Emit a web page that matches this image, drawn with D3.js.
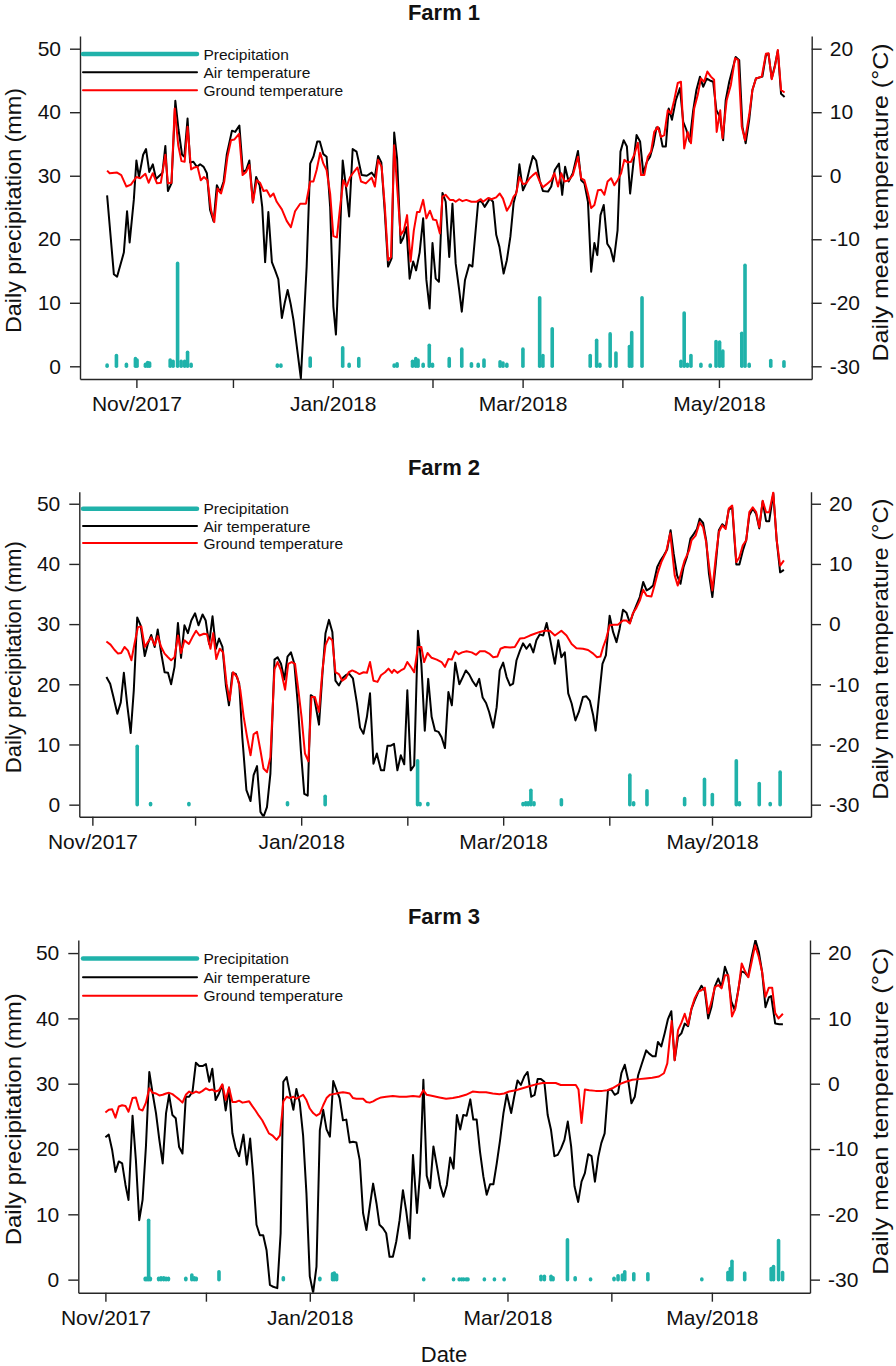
<!DOCTYPE html>
<html>
<head>
<meta charset="utf-8">
<script src="https://cdn.jsdelivr.net/npm/d3@7"></script>
<style>
  body { margin: 0; background: #fff; }
  svg text { font-family: "Liberation Sans", Arial, sans-serif; fill: #111; }
</style>
</head>
<body>
<script>
// values are [day, value], day counted from 1 Nov 2017 (0 = Nov 1)
// temperatures in degrees C, precipitation in mm

const f1Air = [[-9.1,-3.1],[-7,-15.5],[-6,-15.9],[-3.9,-12.1],[-2.9,-5.6],[-2.1,-10.5],[-0.8,-3.8],[0,2.4],[0.8,-0.2],[2.1,3.3],[3,4.2],[4,0.6],[5.1,1.8],[6.1,-0.5],[7.4,0.1],[8.1,0.5],[9,4.7],[9.8,-2.4],[10.9,-1.2],[12.1,11.8],[13.1,7.2],[14.2,3.3],[14.9,3.0],[15.9,9.0],[16.7,2.1],[17.7,2.2],[18.8,1.4],[19.8,1.8],[20.9,1.4],[21.9,0.4],[22.9,-5.4],[24,-7.2],[25,-1.5],[26,-2.6],[27.1,-0.9],[28.1,3.4],[29.7,7.1],[30.7,6.9],[32,7.9],[33.1,0.6],[34.1,0.9],[35.1,2.4],[36.2,-4.2],[37.2,-0.2],[38.3,-1.5],[39.1,-4.9],[40,-13.6],[41,-5.7],[42.1,-13.6],[43.1,-14.9],[44.1,-16.3],[45.2,-22.4],[46.1,-20],[47,-18],[47.9,-20.1],[48.8,-22.7],[51.1,-31.9],[52.9,-14.3],[54,1.9],[55,3],[56.2,5.4],[57,5.4],[58.1,3.4],[59.1,3],[60.2,-4.9],[61.2,-20.6],[62,-25],[63.1,-11.7],[64.1,2.4],[65.1,-1.7],[66.1,-6.4],[67.2,4.2],[68.4,3.8],[70,0.1],[71.6,0],[73.1,0.5],[74.1,-0.2],[75.1,3.1],[76.1,2.1],[77.2,-5.9],[78.2,-14.3],[79.3,-13],[80.1,6.8],[81,2.7],[82.1,-10.6],[82.9,-9.8],[83.9,-8.1],[84.9,-16.2],[86,-13.5],[86.9,-14.9],[88,-12.1],[89.1,-6.7],[90.1,-16.4],[91.1,-20.9],[92,-10.6],[93,-16.2],[94,-16.7],[95.1,-2.7],[96.1,-4.1],[97.2,-12.8],[98.2,-4.4],[99.2,-13.8],[100.3,-18],[101.1,-21.4],[102.1,-16.4],[103.4,-14],[104.4,-14.3],[106.2,-4.1],[107.2,-4.0],[108.2,-4.9],[109.8,-3.6],[110.8,-4.1],[111.8,-9.3],[112.8,-11.2],[114.1,-15.4],[115.1,-13.3],[116.2,-9.6],[117.2,-4.3],[118.2,-2.3],[119,1.8],[120.1,-2.3],[121.1,-1.2],[122.2,1.2],[123.2,3.1],[124.2,2.4],[125.3,-0.7],[126.3,-2.4],[127.9,-2.5],[128.9,-1.7],[130,0.9],[131.3,1.9],[132.3,-3],[133.2,1.4],[134.3,-0.9],[135.6,0.4],[137.2,3.9],[138.2,-0.7],[139.2,-1.2],[140.3,-4.1],[141.3,-15.1],[142.3,-10.6],[143.2,-12.5],[144.2,-6.2],[145.2,-4.6],[146.3,-10.7],[147.3,-11.5],[148.3,-13.5],[149.5,-8.6],[150.4,3.8],[151.4,5.6],[152.4,4.6],[153.4,-2.8],[154.4,1.9],[155.4,6.4],[156.5,5.4],[157.5,0.4],[158.6,2.2],[159.6,3],[160.6,4.8],[161.6,7.6],[162.4,7.5],[163.5,4.6],[164.5,4.6],[165.4,10.6],[166.4,8.8],[167.6,11.9],[168.9,13.8],[169.9,8.5],[170.9,7.2],[171.9,5.4],[173,10.3],[174,13.5],[175.1,15.6],[176.1,14],[177.2,15.3],[178.2,15],[179.2,14.8],[180.2,10.3],[181.3,9.3],[182.3,5.6],[183.1,11.9],[184.2,14.8],[186.2,18.7],[187.3,18.2],[188.3,7.7],[189.3,5.1],[190.4,8.8],[191.4,13.5],[192.5,15.3],[194.5,15.6],[195.6,19],[196.4,19.2],[197.4,15.3],[198.4,17.4],[199.3,19.7],[200.3,12.9],[201.4,12.4]];

const f1Ground = [[-9.1,0.8],[-8.3,0.4],[-6,0.5],[-4.7,0.1],[-3.1,-1.7],[-1.7,-1.4],[0,-0.2],[1.2,-0.4],[2.8,0.3],[3.8,-1.1],[5.1,0.4],[6.4,-1.2],[7.6,-1.1],[9,3.3],[9.8,-1.2],[10.9,-1.1],[11.9,10.6],[13,4.8],[14,2.3],[15,2.2],[15.9,7.7],[17,1],[18,1.3],[19,1.4],[20,-0.7],[21,-0.2],[22.1,-0.7],[23.2,-5.4],[24.2,-7.3],[25.2,-2],[26.3,-2.8],[27.3,-0.9],[28.3,3],[29.4,5.6],[30.4,5.7],[31.9,6.6],[33,0.1],[34.1,0.6],[35.1,1.7],[36.2,-4.2],[37.4,-0.7],[38.4,-1.1],[39.5,-2.4],[40.5,-2.3],[41.6,-3.3],[42.6,-2.8],[43.6,-4.1],[45.2,-5.3],[46.7,-7.1],[48,-8.1],[49.3,-5.6],[50.9,-4.4],[52.7,-4.4],[54,-0.9],[55,-0.9],[56,0.9],[57.1,3.6],[58.1,1.9],[59.1,0.9],[60.2,-2.8],[61.2,-9.5],[62.3,-9.7],[63.3,-4.9],[64.3,-0.7],[65.3,-1.7],[66.4,-0.2],[67.4,0.5],[68.7,1.3],[69.8,-0.9],[71.3,-1.2],[73.1,-0.3],[74.1,-1.7],[75.1,2.5],[76.2,1.4],[77.2,-4.9],[78.2,-13.3],[79.1,-12.8],[80.1,4.8],[81,-1.7],[82.1,-9.3],[83.1,-8.6],[84.1,-6.2],[85.2,-13.5],[86.2,-8.6],[87.2,-5.7],[88,-5.7],[89.1,-3.8],[90.1,-6.7],[91.2,-5.5],[92.2,-6.9],[93.2,-7],[94.3,-9.1],[95.1,-3.3],[96.1,-3],[97.4,-3.8],[98.4,-3.8],[99.2,-4.1],[100.3,-3.7],[101.3,-4],[102.5,-3.8],[104.1,-4.1],[105.6,-4.1],[107,-3.7],[107.7,-4.1],[109.3,-3.5],[110.3,-3.7],[111.8,-3.4],[112.9,-2.8],[113.9,-3.6],[115.1,-5.5],[116.2,-4.6],[117.2,-3.3],[118,-2.8],[119,-0.2],[120.1,-1.3],[121.1,-1.2],[122.2,-0.4],[123.2,0.1],[124.2,0.5],[125.3,-0.9],[126.3,-1.8],[127.3,-1.4],[128.9,-0.7],[129.9,0.4],[131,-1.7],[132,0.4],[133,-0.9],[134.3,-0.7],[135.6,0.1],[137.2,3],[138.2,-0.4],[139.2,-0.7],[140.3,-2.8],[141.3,-5.1],[142.3,-4.6],[143.4,-2.3],[144.4,-2.2],[145.4,-3],[146.4,-0.9],[147.5,-0.4],[148.5,-1.5],[149.5,-0.7],[150.6,0.4],[151.6,2.5],[152.6,2.1],[153.7,2.2],[154.7,3.3],[155.8,5.2],[156.8,0.1],[157.8,0.1],[158.9,3],[159.9,3.8],[160.9,6.9],[162,7.7],[163,6.1],[164,6.4],[165.1,10.3],[166.1,9.8],[167.1,11.9],[168.2,14.6],[169.2,14.8],[170.2,4.3],[171.3,6.9],[172.3,5.1],[173.3,10.6],[174.4,12.7],[175.4,15.3],[176.4,14.8],[177.4,16.4],[178.5,15.6],[179.5,15.1],[180.3,6.9],[181.4,10.3],[182.1,5.9],[183.4,11.9],[184.7,14.3],[186,18.5],[187,18.2],[188.1,7.7],[189.1,5.6],[190.4,9.6],[191.4,13.5],[192.5,15.3],[194.3,15.6],[195.6,19.2],[196.4,19.3],[197.4,15.2],[198.4,17.2],[199.3,19.8],[200.3,13.5],[201.4,13.1]];

const f1Rain = [[-9.1,0.2],[-6.2,1.7],[-3.1,0.3],[-0.3,1.2],[0.2,1],[2.8,0.3],[3.5,0.6],[4.1,0.5],[10.5,1],[11.4,0.8],[12.8,16.2],[13.9,0.8],[15,0.8],[15.9,2.2],[17,0.3],[43.8,0.2],[44.9,0.2],[54,1.3],[64.1,2.9],[66.1,0.3],[69.1,1.2],[80.1,0.2],[81,0.4],[85.8,0.8],[86.8,1.2],[87.5,1.0],[89.1,0.3],[91,3.3],[92,0.3],[97.2,1.2],[101.1,2.7],[104.1,0.4],[106.2,0.3],[108,1],[113,0.7],[113.9,0.5],[115.1,0.3],[120.1,2.7],[125.3,10.8],[126.3,1.7],[129.2,5.9],[141,1.7],[143,4.1],[144,0.3],[147.2,5.1],[149,2.1],[153.2,3.1],[153.9,5.3],[157.1,10.8],[169.2,0.8],[170.2,8.4],[171.2,0.3],[172.3,1.7],[175.4,0.3],[178.3,0.2],[180.1,3.9],[181.2,3.8],[182.2,2.4],[188.1,5.2],[189.1,15.9],[190.4,0.3],[197.1,0.9],[201.2,0.7]];

const f2Air = [[4.1,-8.8],[5.2,-9.9],[6.1,-12],[7.3,-14.9],[8.3,-13],[9.2,-8.1],[10.2,-13.5],[11.2,-18.1],[12.1,-11],[13.1,1.1],[14.1,-0.2],[15.3,-5.3],[16.2,-3.3],[17.2,-1.8],[18.2,-3.8],[19.1,-0.9],[20.1,-4.8],[21.1,-8],[22.1,-8.1],[23,-10],[24,-7.1],[25,0.2],[25.9,-5.6],[26.9,-0.2],[27.9,-1.5],[28.9,0.6],[30,1.8],[31,-0.2],[32.2,1.6],[33.1,0.6],[34.1,-3.3],[35.1,1.3],[36.1,-4.1],[37,-2.4],[38,-3.8],[39,-10.2],[39.9,-13.5],[40.9,-8.1],[41.9,-8.3],[42.9,-9.9],[43.8,-18.8],[45,-27.6],[46.2,-29.4],[47.1,-25.1],[48.1,-23.6],[49.1,-31.2],[50,-32],[51,-30.4],[52,-24.9],[53.2,-5.9],[54.1,-5.5],[55.1,-6.6],[56.1,-9.2],[57,-5.4],[58,-4.7],[59,-6.6],[60,-13.2],[60.9,-21],[61.9,-28.2],[62.9,-28.5],[63.8,-11.8],[64.8,-12.2],[66.2,-16.7],[67.2,-8.3],[68.1,-1.5],[69.1,0.7],[70.1,-1.3],[71,-9.4],[72,-10.2],[73.2,-8.9],[74.2,-8.4],[75.1,-8.3],[76.1,-9],[77.3,-13.2],[78.2,-17.2],[79.2,-18.2],[80.2,-15.4],[81.1,-11.5],[82.1,-23.2],[83.1,-21.5],[84.3,-24.3],[85.2,-24.3],[86.2,-20.2],[87.2,-20.2],[88.1,-19.9],[89.1,-24.3],[90.1,-21.8],[91.1,-23.3],[92,-11],[93,-24.3],[94,-23.5],[95.1,-1.1],[96.1,-6.6],[97.1,-17.7],[98.1,-9.1],[99.1,-15.4],[100.1,-17.7],[101.1,-17.9],[102,-18.8],[103,-20.6],[104,-11.3],[105,-13.5],[106,-6.4],[107.2,-10],[108.2,-8.8],[109.1,-7.7],[110.1,-8.4],[111.1,-9.5],[112.1,-10.3],[113,-9.1],[114,-12.2],[115,-13.1],[115.9,-14.6],[117.1,-17.2],[118.1,-13.8],[119,-7.7],[120,-6.4],[121,-8.8],[122,-10.2],[122.9,-9.9],[123.9,-6],[124.9,-4.4],[125.8,-3.2],[126.8,-4.1],[127.8,-3.3],[128.8,-4.7],[129.7,-2.7],[130.7,-1.7],[131.7,-1.9],[132.7,0.2],[133.6,-2.2],[135.1,-6.6],[136.1,-2.7],[137,-5.5],[138,-4.7],[139,-11.5],[140,-13.2],[141.1,-16],[142.1,-14.6],[143.3,-12.1],[144.3,-12],[145.3,-12.7],[146.3,-15.2],[147,-17.7],[148,-12.1],[149,-6.6],[150,-5.2],[151.1,1.4],[152.1,-1.3],[153.1,-3],[154,-0.8],[155,2.4],[156,1.9],[157,0.2],[157.9,1.7],[158.9,3.1],[159.9,4.5],[160.9,7],[161.9,5.6],[162.8,5.9],[163.8,6.4],[165,9.5],[166,10.6],[166.9,11.4],[167.9,12.4],[168.9,15.6],[169.8,11.7],[170.8,8.1],[171.8,6.7],[172.7,9.5],[173.7,11.2],[174.7,14.2],[175.7,15],[176.6,15.8],[177.4,17.5],[178.4,16.8],[179.3,13.9],[180.1,8.4],[181.1,4.5],[182.1,10],[183,15.6],[184,16.6],[185,16.1],[185.9,19],[186.9,19.4],[188.1,9.9],[189,9.9],[190,12.2],[191,14],[191.9,18.1],[192.9,19.2],[193.9,18.3],[194.8,15.9],[195.8,20.4],[196.8,17.1],[197.7,17.1],[198.9,21.7],[199.9,13.9],[200.9,8.6],[202,9]];

const f2Ground = [[4.1,-2.9],[5.3,-3.4],[6.5,-4.3],[7.5,-4.9],[8.4,-4.8],[9.4,-3.8],[10.4,-4.4],[11.4,-6],[12.3,-3.3],[13.3,-0.5],[14.3,-0.4],[15.3,-3.8],[16.2,-3],[17.2,-2.2],[18.2,-3.5],[19.1,-2],[20.1,-3.8],[21.1,-4.9],[22.1,-5.5],[23,-6],[24,-5.5],[25,-1.9],[25.9,-4.8],[26.9,-2.7],[28.2,-3.3],[29.2,-2.2],[30.3,-1.1],[31.3,-1.9],[32.6,-1.6],[33.5,-1.7],[34.5,-4.1],[35.3,-1.5],[36.2,-5.8],[37.2,-4.1],[38.2,-4.7],[39.2,-9.9],[40.1,-12.7],[41.1,-8],[42.3,-8.8],[43.2,-10.9],[44.2,-15.4],[45.2,-18.8],[46.2,-21.8],[47.1,-18.3],[48.1,-17.9],[49.1,-21],[50,-24],[51,-24.6],[52,-22.1],[53.2,-7.5],[54.1,-6.3],[55.1,-7.7],[56.3,-10.9],[57.2,-6.6],[58.2,-6.3],[59.2,-6.6],[60.2,-11.1],[61.1,-15.4],[62.1,-21.5],[63.1,-22.8],[64,-12.1],[65,-12.1],[66.2,-14.6],[67.2,-7.7],[68.1,-3.5],[69.1,-2.2],[70.1,-2.7],[71,-8],[72,-8.3],[73,-9.4],[74,-9],[74.9,-8],[75.9,-7.7],[77.1,-8],[78,-8.3],[79.2,-8],[80.2,-8.1],[81.1,-6.3],[82.1,-9.4],[83.3,-9.6],[84.3,-8.5],[85.5,-8],[86.5,-7.4],[87.5,-8.1],[88.1,-7.6],[89.1,-8.1],[90.1,-7.7],[91.1,-7.4],[92,-6.3],[93,-7.1],[94,-8],[95.1,-3.8],[96.1,-3.8],[96.9,-6.3],[97.9,-4.8],[99.1,-5.6],[100.6,-5.9],[102,-6.3],[103,-7.1],[104,-5.8],[105,-5.9],[106,-4.5],[107,-5],[108,-4.7],[109.3,-4.5],[110.8,-4.7],[112.1,-5.1],[113.2,-4.5],[114.6,-4.5],[115.9,-4.9],[117.1,-5.5],[118.3,-5.4],[119.2,-4.1],[120.5,-3.8],[122,-3.9],[123.4,-3.8],[124.9,-2.4],[126.3,-2.3],[127.8,-1.9],[129.2,-1.6],[130.7,-1.3],[132.1,-1.1],[133.6,-1.1],[135.1,-1.9],[137,-1.1],[138.5,-1.9],[140,-3.3],[141.4,-4],[143.3,-4.1],[144.8,-4.3],[146.3,-4.9],[147.4,-5.5],[148.4,-5.4],[149.2,-3.8],[150.1,-2.4],[151.1,-0.2],[152.3,-0.1],[153.5,-0.1],[155,0.6],[156,0.6],[157,0.1],[157.9,1.8],[158.9,2.7],[159.9,3.9],[160.9,5.7],[161.9,4.7],[163.3,4.6],[164.2,6.4],[165.2,8.6],[166.2,10.3],[167.6,12],[168.8,15.1],[170.1,8.1],[171,6.4],[172,8.6],[173,10.6],[174.3,12.2],[175,13.9],[176.2,14.7],[177.4,16.9],[178.4,16.1],[179.3,13.6],[180.3,8.9],[181.1,5.6],[182.1,11.1],[183,15.3],[184,16.4],[185,15.8],[185.9,19.2],[186.9,19.7],[188.1,10.3],[189,11.1],[190,13.1],[191,13.9],[191.9,18.6],[192.9,19.4],[193.9,18.6],[194.8,16.1],[195.8,20.5],[196.8,18.6],[197.7,18.6],[198.9,21.9],[199.9,13.9],[200.9,9.7],[202,10.6]];

const f2Rain = [[13.1,9.7],[17,0.2],[28.2,0.2],[57,0.3],[68,1.4],[95,7.3],[95.7,0.2],[98,0.2],[125.8,0.2],[126.6,0.3],[127.3,0.3],[128.1,2.4],[129,0.3],[137,0.8],[157,4.9],[158.1,0.3],[162,2.3],[173,1],[178.8,4.2],[181.1,1.7],[188.1,7.3],[189,0.3],[194.8,3.5],[198,0.2],[200.9,5.4]];

const f3Air = [[0,-8.2],[1,-7.8],[2,-10.1],[3,-13.5],[4,-11.9],[5,-12.2],[6,-15.5],[6.9,-17.8],[8.1,-4.9],[9.1,-11.7],[10.1,-20.9],[11.1,-17.8],[12.1,-9.6],[13.1,1.8],[14.1,-1.5],[15.1,-4.5],[16.1,-8.6],[17.1,-12.2],[18.1,-4.5],[19,-1.7],[20,-4.8],[21,-5.3],[22,-9.7],[23,-10.7],[24,-2],[25,-2],[26,-1.2],[27,3.2],[28,2.7],[29,2.7],[30,3],[31,0.3],[31.9,2.3],[32.9,-2.5],[33.9,-1.5],[34.9,-0.2],[35.9,-4.1],[36.9,-0.6],[37.9,-7.6],[38.9,-9.9],[39.9,-11.1],[41.2,-7.8],[42.2,-12.4],[43.2,-8.4],[44.1,-14],[45.1,-21.6],[46.1,-23.2],[47.1,-23.2],[48.1,-25.5],[49.1,-30.8],[50.1,-31.1],[51.3,-31.3],[52.3,-22.9],[53.1,0.3],[54.1,1],[55.1,-1.6],[56.1,-4],[57,-0.8],[58,-2.9],[59,-7.9],[60,-16.8],[61,-29.5],[62,-32],[63,-28],[64,-7.1],[65,-4],[66,-7],[67,-8.1],[68,0.4],[69,-1],[69.9,-2.2],[70.9,-5.6],[71.9,-5.5],[72.9,-9],[73.9,-8.9],[74.9,-9],[75.9,-11.7],[76.9,-19.8],[77.9,-22.4],[78.9,-18.8],[79.9,-15.3],[80.9,-18.3],[81.8,-21.6],[82.8,-22.1],[83.8,-22.9],[84.8,-26.5],[85.8,-26.5],[86.8,-24.2],[87.8,-20.9],[88.8,-16.3],[89.8,-19.6],[90.8,-23.7],[91.8,-10.9],[93,-19.8],[93.9,-13.7],[94.9,0.6],[95.9,-14.1],[96.9,-16],[97.9,-9.6],[98.9,-12.5],[99.9,-15.5],[100.9,-17.3],[101.9,-15.5],[102.9,-11.3],[103.9,-13],[104.9,-4.8],[105.9,-7],[106.8,-4.8],[107.8,-4.9],[108.9,-2.4],[109.8,-5.5],[110.8,-5.5],[111.8,-10.4],[112.8,-14.2],[113.8,-17],[114.8,-15.4],[115.8,-15.4],[116.8,-12.2],[117.8,-8.6],[118.8,-4.5],[119.8,-1.6],[121.1,-4.5],[122,-2],[123,0.5],[124,-0.2],[125,1.1],[126,1.8],[127.1,-2],[128.1,-1.7],[129,0.7],[130,0.7],[131,0.3],[132,-4.8],[133,-7.1],[134,-11.1],[135,-10.9],[136,-9.9],[137,-8.6],[138,-5.8],[139,-9.6],[140,-15.7],[141.1,-18.1],[142.1,-15],[143.1,-13.7],[144.1,-10.8],[145.1,-11.1],[146.1,-15],[147.1,-11.2],[148,-9.1],[149,-7.6],[150,-1],[151,-0.9],[152,-1.7],[153,-1.4],[154,1.6],[155,2.9],[156,0.6],[157,-3],[158,-2],[159,1.3],[160,2.9],[161.4,5.1],[162.3,4.6],[163.3,4.2],[164.2,4.2],[164.9,6.4],[165.9,5.7],[166.9,7.7],[167.9,9.9],[168.9,11.1],[169.9,3.6],[170.9,7.2],[171.9,7.7],[172.9,9.2],[173.9,8.8],[174.9,11.4],[175.9,12.8],[176.9,14],[177.9,15],[178.9,14.2],[179.9,10],[180.9,11.8],[181.9,14.9],[182.9,16.1],[183.9,14.8],[184.9,17.9],[185.8,16.6],[186.8,12.6],[187.8,11.3],[188.8,14.1],[189.8,17.2],[190.8,17],[191.8,16.4],[192.8,19.2],[194,22],[195,20.2],[196,17.1],[197,11.7],[198,13.2],[198.7,13.4],[199.9,9.2],[201.1,9.1],[202.2,9.1]];

const f3Ground = [[0,-4.4],[1,-4],[2,-3.9],[3,-5.2],[4,-3.5],[5,-3.3],[6,-3.4],[6.9,-4.3],[8.1,-2.2],[9.1,-2.1],[10.1,-3.9],[11.1,-4.1],[12.1,-2.9],[13.1,-0.7],[14.1,-1.4],[15.1,-1.5],[16.1,-1.8],[17.1,-1.7],[18.1,-1.5],[19,-1.4],[20,-1.6],[21,-2],[22,-2.4],[23,-2.9],[24,-1.7],[25,-1.2],[26,-1.5],[27,-1.2],[28,-1.4],[29,-1.1],[30,-0.7],[31,-1],[31.9,-0.9],[32.9,-1.2],[33.9,-1],[34.9,-0.1],[35.9,-2.5],[36.9,-0.6],[37.9,-2.8],[38.9,-2.8],[39.9,-2.6],[40.9,-2.9],[41.9,-2.8],[42.9,-2.7],[43.8,-3.4],[44.8,-4.1],[45.8,-4.9],[46.8,-5.6],[47.8,-6.6],[48.8,-7.6],[49.8,-7.9],[51.1,-8.6],[52.1,-7.9],[53.1,-2.7],[54.1,-2],[55.1,-2.2],[56.1,-2],[57,-2.3],[58,-2],[59,-1.7],[60,-2.5],[61,-3.8],[62,-4.5],[63,-4.9],[64,-4.6],[65,-3.3],[66,-2.2],[67,-1.7],[68,-1.6],[69,-1.5],[69.9,-1.4],[70.9,-1.3],[71.9,-1.4],[72.9,-1.5],[73.9,-2.2],[74.9,-2.3],[75.9,-2.3],[76.9,-2.3],[77.9,-2.8],[78.9,-2.9],[79.9,-2.7],[80.9,-2.4],[82.3,-2.1],[83.8,-2],[85.8,-1.9],[87.8,-2],[89.8,-2],[91.8,-1.9],[93.8,-2],[94.9,-1],[95.9,-1.7],[97.7,-1.9],[99.7,-2.1],[101.7,-2.3],[103.7,-2.2],[105.6,-2],[107.6,-1.7],[109.6,-1.2],[111.6,-1.3],[113.6,-1.3],[115.6,-1.5],[117.6,-1.6],[119,-1.5],[120.5,-1.2],[122.5,-1],[124.5,-0.7],[126.5,-0.4],[128.5,-0.1],[130.5,0.1],[132.5,0.1],[134.4,0.1],[135.9,-0.2],[137.4,-0.2],[139.4,-0.2],[140.4,-0.2],[141.2,-0.9],[142.1,-6],[143.1,-0.9],[144.4,-1],[146.3,-1.1],[148.3,-1.1],[149.8,-1],[151.3,-0.7],[153.3,-0.1],[155.3,0.3],[157.3,0.6],[159.2,0.7],[161.2,0.8],[163.2,0.9],[165.2,1.1],[166.7,1.6],[167.7,3.1],[168.4,6.7],[169,9.6],[169.9,3.6],[170.9,8.2],[171.9,9.3],[172.9,10.7],[173.9,9],[174.9,11.5],[175.9,13.1],[176.9,14.1],[177.9,14.3],[178.9,14.7],[179.9,10.8],[180.9,12.6],[181.9,14.8],[182.9,15.1],[183.9,14.6],[184.9,16.6],[185.9,16.6],[187,10.3],[188,11.5],[188.9,14.3],[189.9,18.4],[190.9,17.2],[191.9,16.3],[192.9,18.7],[193.9,21.2],[195,19.4],[196,17.1],[197,13.3],[198,14.7],[199,14.7],[199.9,10.8],[200.9,10],[202.2,10.7]];

const f3Rain = [[11.9,0.2],[12.4,0.2],[12.9,9.1],[13.4,0.2],[15.9,0.2],[16.6,0.3],[17.4,0.3],[18.1,0.2],[18.8,0.2],[24,0.2],[25.8,0.7],[26.5,0.3],[27.1,0.2],[33.9,1.2],[53.1,0.3],[64,0.2],[67.8,0.9],[68.3,1],[69,0.7],[95,0.1],[103.9,0.1],[105.6,0.1],[106.3,0.1],[106.9,0.1],[107.7,0.1],[108.2,0.1],[113.1,0.1],[116.1,0.1],[119,0.1],[130,0.5],[131,0.5],[133,0.5],[133.6,0.3],[137.9,6.1],[140.2,0.3],[144.8,0.1],[151.8,0.2],[153,0.6],[154.3,0.7],[155,1.2],[157.7,0.9],[161.9,0.9],[178,0.1],[185.8,1.1],[186.5,1.7],[187,2.8],[190.8,1],[198.7,1.7],[199.4,2],[200.9,6],[202.1,1.1]];

const farmNames = ['Farm 1', 'Farm 2', 'Farm 3'];
const monthTicks = ['2017-11-01', '2017-12-01', '2018-01-01', '2018-02-01', '2018-03-01', '2018-04-01', '2018-05-01'];
const monthLabels = ['Nov/2017', '', 'Jan/2018', '', 'Mar/2018', '', 'May/2018'];
const rainTicks = [0, 10, 20, 30, 40, 50];
const tempTicks = [-30, -20, -10, 0, 10, 20];
const legendNames = ['Precipitation', 'Air temperature', 'Ground temperature'];

const farms = [
  { air: f1Air, ground: f1Ground, rain: f1Rain },
  { air: f2Air, ground: f2Ground, rain: f2Rain },
  { air: f3Air, ground: f3Ground, rain: f3Rain }
];

// plot boxes of the three panels
const layout = [
  { top: 36, bottom: 379, left: 80, right: 811.7 },
  { top: 491.7, bottom: 816.7, left: 79.3, right: 811 },
  { top: 940, bottom: 1292.7, left: 78.3, right: 810 }
];

const width = 896, height = 1366;
const teal = '#20b2aa';
const axisColor = '#262626';
const day0 = Date.UTC(2017, 10, 1);
const toDate = d => new Date(day0 + d * 864e5);

const svg = d3.select('body').append('svg')
    .attr('width', width)
    .attr('height', height);

farms.forEach((f, i) => {
  const L = layout[i];
  const h = L.bottom - L.top;

  const days = f.air.map(d => d[0]).concat(f.ground.map(d => d[0]));
  const lo = d3.min(days), hi = d3.max(days);
  const pad = (hi - lo) * 0.04;

  const x = d3.scaleUtc()
      .domain([toDate(lo - pad), toDate(hi + pad)])
      .range([L.left, L.right]);
  const yRain = d3.scaleLinear().domain([-2, 52]).range([L.bottom, L.top]);
  const yTemp = d3.scaleLinear().domain([-32, 22]).range([L.bottom, L.top]);

  const g = svg.append('g');

  svg.append('clipPath')
      .attr('id', 'clip' + i)
    .append('rect')
      .attr('x', L.left)
      .attr('y', L.top)
      .attr('width', L.right - L.left)
      .attr('height', h);

  const plot = g.append('g').attr('clip-path', `url(#clip${i})`);

  // precipitation as vertical bars (like type = "h")
  plot.selectAll('line.rain')
      .data(f.rain)
      .enter()
      .append('line')
      .attr('class', 'rain')
      .attr('x1', d => x(toDate(d[0])))
      .attr('x2', d => x(toDate(d[0])))
      .attr('y1', yRain(0))
      .attr('y2', d => yRain(d[1]))
      .attr('stroke', teal)
      .attr('stroke-width', 3.6)
      .attr('stroke-linecap', 'round');

  const line = d3.line()
      .x(d => x(toDate(d[0])))
      .y(d => yTemp(d[1]));

  plot.append('path')
      .datum(f.air)
      .attr('d', line)
      .attr('fill', 'none')
      .attr('stroke', '#000')
      .attr('stroke-width', 2)
      .attr('stroke-linejoin', 'round');

  plot.append('path')
      .datum(f.ground)
      .attr('d', line)
      .attr('fill', 'none')
      .attr('stroke', '#ff0000')
      .attr('stroke-width', 2)
      .attr('stroke-linejoin', 'round');

  // axes
  const xAxis = d3.axisBottom(x)
      .tickValues(monthTicks.map(s => new Date(s + 'T00:00:00Z')))
      .tickFormat((d, k) => monthLabels[k])
      .tickSize(9)
      .tickSizeOuter(0)
      .tickPadding(8);

  const leftAxis = d3.axisLeft(yRain)
      .tickValues(rainTicks)
      .tickFormat(d => String(d))
      .tickSize(10)
      .tickSizeOuter(0)
      .tickPadding(9);

  const rightAxis = d3.axisRight(yTemp)
      .tickValues(tempTicks)
      .tickFormat(d => String(d))
      .tickSize(10)
      .tickSizeOuter(0)
      .tickPadding(8);

  const axes = [
    g.append('g').attr('transform', `translate(0, ${L.bottom})`).call(xAxis),
    g.append('g').attr('transform', `translate(${L.left}, 0)`).call(leftAxis),
    g.append('g').attr('transform', `translate(${L.right}, 0)`).call(rightAxis)
  ];
  axes.forEach(a => {
    a.attr('font-family', null).attr('font-size', null);
    a.select('.domain').attr('stroke', axisColor).attr('stroke-width', 1.4);
    a.selectAll('.tick line').attr('stroke', axisColor).attr('stroke-width', 1.4);
    a.selectAll('.tick text').style('font-size', '21px').attr('fill', '#111');
  });

  // title
  g.append('text')
      .attr('x', 444)
      .attr('y', L.top - 16.5)
      .attr('text-anchor', 'middle')
      .style('font-size', '22px')
      .style('font-weight', 'bold')
      .text(farmNames[i]);

  // axis titles, stretched a little like the original
  const cy = (L.top + L.bottom) / 2;
  g.append('text')
      .attr('transform', `translate(21, ${cy + 3}) rotate(-90)`)
      .attr('text-anchor', 'middle')
      .attr('textLength', 245 * h / 343)
      .attr('lengthAdjust', 'spacingAndGlyphs')
      .style('font-size', '22px')
      .text('Daily precipitation (mm)');

  g.append('text')
      .attr('transform', `translate(888, ${cy - 5}) rotate(-90)`)
      .attr('text-anchor', 'middle')
      .attr('textLength', 318 * h / 343)
      .attr('lengthAdjust', 'spacingAndGlyphs')
      .style('font-size', '22px')
      .text('Daily mean temperature (°C)');

  // legend
  const legendY = [18, 36.2, 54.2].map(v => L.top + v * h / 343);
  const legendColor = [teal, '#000', '#ff0000'];
  const legendWidth = [4.5, 2, 2];
  legendNames.forEach((name, k) => {
    g.append('line')
        .attr('x1', 83)
        .attr('x2', 197)
        .attr('y1', legendY[k])
        .attr('y2', legendY[k])
        .attr('stroke', legendColor[k])
        .attr('stroke-width', legendWidth[k])
        .attr('stroke-linecap', 'round');
    g.append('text')
        .attr('x', 203.5)
        .attr('y', legendY[k] + 5.5)
        .style('font-size', '15.5px')
        .text(name);
  });
});

svg.append('text')
    .attr('x', 444)
    .attr('y', 1362)
    .attr('text-anchor', 'middle')
    .style('font-size', '22px')
    .text('Date');
</script>
</body>
</html>
